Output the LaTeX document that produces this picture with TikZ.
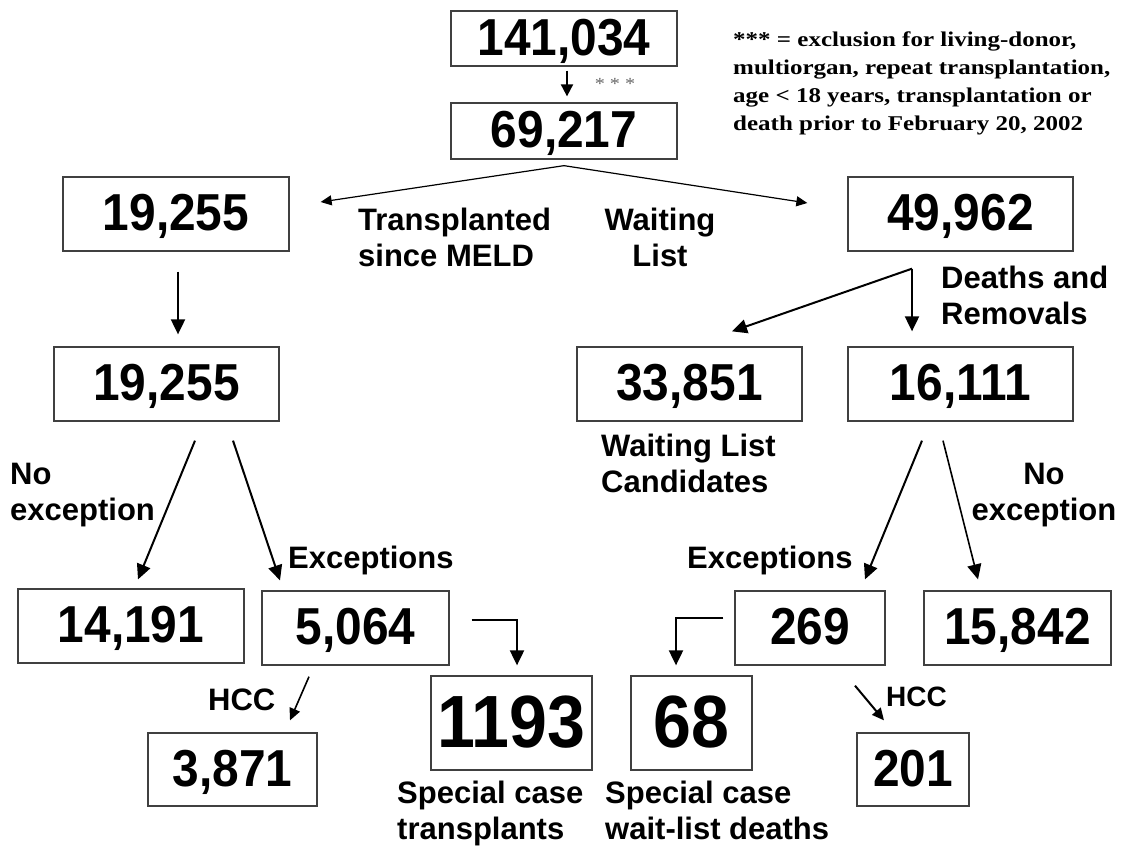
\documentclass[tikz,border=0pt]{standalone}
\usepackage{fontspec}
\usepackage{tikz}
\usetikzlibrary{arrows.meta,calc,positioning}
\newfontfamily\numfont{Liberation Sans}[FakeStretch=0.92]
\newfontfamily\labfont{Liberation Sans}
\newfontfamily\notefont{Liberation Serif}[FakeStretch=1.19]

\begin{document}
\begin{tikzpicture}[x=1pt,y=-1pt,
	numbox/.style={draw=black!75, line width=1.3pt, inner sep=0pt, minimum width=#1, minimum height=74pt, text height=37pt, text depth=4pt, font=\numfont\bfseries\fontsize{52}{60}\selectfont},
	numbox/.default=225,
	bignum/.style={text height=53pt, text depth=4pt, font=\numfont\bfseries\fontsize{74}{80}\selectfont},
	lab/.style={inner sep=0pt, font=\labfont\bfseries\fontsize{31}{36}\selectfont},
	arr/.style={-{Triangle[length=15pt,width=14pt]}, line width=2pt},
	thinarr/.style={-{Triangle[length=11pt,width=10pt]}, line width=1.2pt}]

	\useasboundingbox (0,0) rectangle (1121,846);

	% counts
	\node[numbox=226, minimum height=55pt] (total) at (564,38.5) {141,034};
	\node[numbox=226, minimum height=56pt] (eligible) at (564,131) {69,217};
	\node[numbox=226] (tx) at (176,214) {19,255};
	\node[numbox] (wl) at (960.5,214) {49,962};
	\node[numbox] (txmeld) at (166.5,384) {19,255};
	\node[numbox] (cand) at (689.5,384) {33,851};
	\node[numbox] (dr) at (960.5,384) {16,111};
	\node[numbox=226] (txnoexc) at (131,626) {14,191};
	\node[numbox=187] (txexc) at (355.5,628) {5,064};
	\node[numbox=150] (drexc) at (810,628) {269};
	\node[numbox=187] (drnoexc) at (1017.5,628) {15,842};
	\node[numbox=169, minimum height=73pt] (txhcc) at (232.5,769.5) {3,871};
	\node[numbox=161, minimum height=94pt, bignum] (txspec) at (511.5,723) {1193};
	\node[numbox=121, minimum height=94pt, bignum] (drspec) at (691.5,723) {68};
	\node[numbox=112, minimum height=73pt] (drhcc) at (913,769.5) {201};

	% labels
	\node[lab, anchor=north west, align=left] (ltrans) at (358,207.5) {Transplanted\\since MELD};
	\node[lab, anchor=north, align=center] (lwait) at (660,207.5) {Waiting\\List};
	\node[lab, anchor=north west, align=left] (ldeath) at (941,265.5) {Deaths and\\Removals};
	\node[lab, anchor=north west, align=left] (lcand) at (601,433.5) {Waiting List\\Candidates};
	\node[lab, anchor=north west, align=left] (lnoexcl) at (10,462.5) {No\\exception};
	\node[lab, anchor=north, align=center] (lnoexcr) at (1044,462.5) {No\\exception};
	\node[lab, anchor=base west] (lexcl) at (288,568) {Exceptions};
	\node[lab, anchor=base west] (lexcr) at (687,568) {Exceptions};
	\node[lab, anchor=base west] (lhccl) at (208,710) {HCC};
	\node[lab, anchor=base west, font=\labfont\bfseries\fontsize{28}{32}\selectfont] (lhccr) at (886,706) {HCC};
	\node[lab, anchor=north west, align=left] (lspect) at (397,780.5) {Special case\\transplants};
	\node[lab, anchor=north west, align=left] (lspecd) at (605,780.5) {Special case\\wait-list deaths};

	\node[inner sep=0pt, anchor=north west, align=left, font=\notefont\bfseries\fontsize{21}{28}\selectfont] (note) at (733,32) {*** = exclusion for living-donor,\\multiorgan, repeat transplantation,\\age < 18 years, transplantation or\\death prior to February 20, 2002};
	\node[inner sep=0pt, text=black!60, font=\notefont\fontsize{17}{17}\selectfont] (stars) at (615,84) {* * *};

	% exclusions and split
	\draw[-{Triangle[length=12pt,width=12pt]}, line width=2pt] ($(total.south)+(3,4)$) -- ($(eligible.north)+(3,-6)$);
	\coordinate (split) at ($(eligible.south)+(0,6)$);
	\draw[thinarr] (split) -- ($(tx.east)+(31,-12)$);
	\draw[thinarr] (split) -- ($(wl.west)+(-40,-11)$);

	% transplanted
	\draw[arr] ($(tx.south)+(2,20)$) -- ($(txmeld.north)+(11.5,-12)$);
	\draw[arr] ($(txmeld.south)+(28.5,19)$) -- ($(txnoexc.north)+(7,-9)$);
	\draw[arr] ($(txmeld.south)+(66.5,19)$) -- ($(txexc.north)+(-75.5,-10)$);
	\draw[arr] ($(txexc.east)+(22,-8)$) -| ($(txspec.north)+(5.5,-10)$);
	\draw[arr, line width=1.6pt, -{Triangle[length=12pt,width=11pt]}] ($(txexc.south)+(-46.5,11)$) -- ($(txhcc.north)+(57.5,-12)$);

	% waiting list
	\coordinate (fork) at ($(wl.south)+(-48.5,17)$);
	\draw[arr] (fork) -- ($(dr.north)+(-48.5,-15)$);
	\draw[arr] (fork) -- ($(cand.north)+(42.5,-15)$);
	\draw[arr] ($(dr.south)+(-38.5,19)$) -- ($(drexc.north)+(55,-11)$);
	\draw[arr, line width=1.6pt] ($(dr.south)+(-17.5,19)$) -- ($(drnoexc.north)+(-39.5,-11)$);
	\draw[arr] ($(drexc.west)+(-11,-10)$) -| ($(drspec.north)+(-15.5,-10)$);
	\draw[arr, -{Triangle[length=12pt,width=11pt]}] ($(drexc.south)+(45,20)$) -- ($(drhcc.north)+(-29,-12)$);

\end{tikzpicture}
\end{document}
